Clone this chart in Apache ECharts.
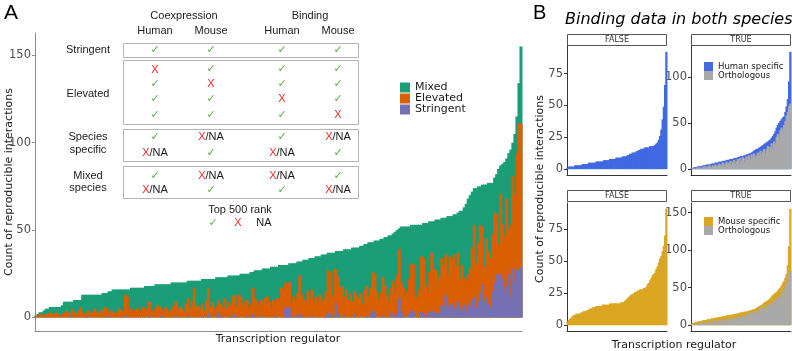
<!DOCTYPE html>
<html>
<head>
<meta charset="utf-8">
<script src="https://cdn.jsdelivr.net/npm/echarts@6/dist/echarts.min.js"></script>
<style>
  html, body { margin: 0; padding: 0; background: #fff; }
  #chart { width: 792px; height: 351px; }
</style>
</head>
<body>
<div id="chart"></div>
<script>
// Panel A: reproducible interactions per regulator (sorted by total)
// tops of the visible layers: total (Mixed on top), Elevated top, Stringent top
var totalA = [
  1,2,3,3,4,5,5,6,6,6,
  6,6,6,7,9,9,9,9,9,10,
  10,10,10,13,13,13,13,13,13,13,
  13,13,13,14,14,14,15,15,16,16,
  16,16,16,16,16,16,16,17,17,17,
  17,17,17,17,18,18,18,18,18,19,
  19,19,19,19,19,19,19,20,20,20,
  20,20,20,20,20,21,21,21,21,21,
  21,21,22,22,22,22,22,22,22,23,
  23,23,23,23,23,24,24,24,24,24,
  24,25,25,25,25,25,26,26,27,27,
  27,27,28,28,28,28,29,29,29,29,
  30,30,30,30,30,31,31,31,31,32,
  32,32,33,33,33,34,34,34,35,35,
  35,36,36,36,37,37,37,37,38,38,
  38,38,39,39,39,39,40,40,40,40,
  41,41,42,42,43,43,43,44,44,44,
  45,45,46,46,47,47,48,49,50,51,
  52,52,52,52,52,53,53,53,53,53,
  53,54,54,54,55,55,55,56,56,56,
  57,57,57,58,58,58,59,59,60,61,
  61,63,65,68,70,72,74,74,75,75,
  76,76,76,77,77,77,80,82,85,87,
  88,89,91,94,96,100,105,115,134,155
];
var elevatedA = [
  1,1,2,1,2,1,2,3,2,2,
  3,2,1,2,3,4,3,2,5,3,
  2,4,6,3,2,3,4,2,3,5,
  3,2,4,3,6,5,3,4,3,2,
  3,5,4,3,13,12,4,5,3,4,
  5,3,4,6,3,5,9,4,3,5,
  7,6,5,3,6,4,3,5,7,9,
  4,6,5,3,8,11,5,9,17,6,
  7,5,8,4,10,17,6,9,5,7,
  10,8,6,11,5,9,7,12,13,6,
  13,12,7,9,10,6,8,17,11,9,
  7,10,8,11,12,9,6,10,8,11,
  9,17,14,20,19,20,8,12,10,14,
  24,13,10,9,15,11,16,9,12,10,
  13,9,11,15,27,26,12,28,27,23,
  17,18,12,16,10,14,9,15,13,11,
  14,8,16,18,12,17,26,25,15,10,
  14,23,18,13,9,17,21,14,24,39,
  20,17,12,15,22,31,30,12,10,16,
  35,34,18,14,26,37,28,27,20,24,
  34,30,36,24,35,33,36,29,37,22,
  30,23,21,25,28,40,53,31,43,53,
  52,29,45,38,34,48,60,59,42,71,
  53,46,68,50,53,81,70,94,111,111
];
var stringentA = [
  0,0,0,0,0,0,0,0,0,0,
  0,0,0,0,0,0,0,1,0,0,
  0,0,0,0,0,1,0,0,0,0,
  0,0,0,0,0,0,1,0,0,0,
  0,0,0,0,1,0,0,0,0,0,
  0,0,0,0,0,0,1,0,0,0,
  0,0,1,0,0,0,0,0,0,1,
  0,0,0,0,0,1,0,0,0,0,
  0,0,1,0,0,3,1,0,0,0,
  3,1,0,0,0,0,1,0,2,0,
  0,0,0,0,1,0,0,2,0,0,
  0,1,0,0,0,0,0,0,1,0,
  0,0,0,5,6,5,0,0,1,0,
  2,1,0,0,0,0,1,0,0,0,
  0,0,0,1,3,2,0,1,8,2,
  0,0,1,0,0,0,0,2,0,0,
  0,0,0,1,0,2,4,3,0,0,
  0,1,0,0,0,3,0,1,2,11,
  3,1,0,0,2,4,3,0,0,0,
  3,2,0,1,3,4,3,3,2,2,
  7,6,13,5,7,8,4,6,9,5,
  4,7,3,8,6,10,12,5,9,14,
  19,9,12,8,6,15,20,25,24,25,
  22,16,18,25,12,28,20,27,27,29
];
var ticksA = [0, 50, 100, 150];

// Panel B: binding data in both species (FALSE / TRUE facets)
var humanFalse = [
  1,2,2,2,2,2,3,3,3,3, 3,3,4,4,4,4,4,5,5,5,
  5,5,5,6,6,6,6,6,6,7, 7,7,7,7,8,8,8,8,8,9,
  9,9,9,9,10,10,10,10,11,11, 12,12,13,13,13,14,14,15,15,16,
  16,16,17,17,17,17,18,18,18,18, 19,20,21,23,26,31,39,49,66,92
];
var humanTrue = [
  1,1,2,2,2,3,3,3,3,4, 4,4,5,5,5,5,6,6,6,7,
  7,7,8,8,8,9,9,9,10,10, 10,11,11,11,12,12,12,13,13,14,
  14,14,15,15,16,16,17,17,18,19, 20,21,22,22,23,24,25,26,27,28,
  29,30,31,32,34,36,38,41,45,48, 50,52,54,56,57,62,68,76,95,127
];
var humanOrtho = [
  0,1,1,0,1,2,1,2,1,2, 3,2,3,1,4,3,2,4,3,5,
  4,3,6,5,4,7,3,6,8,5, 7,9,5,8,10,6,9,11,7,12,
  9,13,8,12,14,10,15,11,16,13, 17,12,15,18,14,20,16,19,22,17,
  21,25,18,24,28,22,30,27,35,38, 33,42,45,40,48,52,58,62,68,71
];
var mouseFalse = [
  3,4,5,6,7,8,8,9,9,9, 9,10,10,11,11,11,12,12,13,13,
  14,14,14,15,15,15,15,15,16,16, 16,16,16,16,17,17,17,17,17,17,
  17,17,17,18,18,18,19,20,21,22, 23,24,24,25,26,26,27,27,28,28,
  28,29,29,30,32,33,35,37,39,40, 41,44,46,49,52,54,58,62,70,91
];
var mouseTrue = [
  2,3,3,4,4,5,5,5,6,6, 7,7,7,8,8,8,9,9,9,10,
  10,10,11,11,11,12,12,12,13,13, 13,14,14,14,15,15,15,16,16,17,
  17,17,18,18,18,19,19,20,20,21, 21,22,23,24,25,26,27,28,30,31,
  32,33,34,36,38,40,41,43,44,46, 48,50,53,56,59,63,68,80,105,155
];
var mouseOrtho = [
  1,0,2,1,2,1,3,2,1,3, 2,4,3,1,5,3,4,2,6,4,
  5,3,7,4,6,8,5,3,9,6, 8,5,10,7,4,11,9,6,12,8,
  10,14,7,12,15,9,16,11,18,13, 15,19,12,20,17,22,14,24,19,25,
  21,28,17,26,30,23,33,27,36,31, 38,34,42,45,40,50,55,60,68,73
];
var ticksFalse = [0, 25, 50, 75];
var ticksHumanTrue = [0, 50, 100];
var ticksMouseTrue = [0, 50, 100, 150];

// table in panel A
var tableHeads = ['Coexpression', 'Binding'];
var tableCols = ['Human', 'Mouse', 'Human', 'Mouse'];
var tableGroups = [
  { label: ['Stringent'], rows: [['Y','Y','Y','Y']] },
  { label: ['Elevated'], rows: [['X','Y','Y','Y'], ['Y','X','Y','Y'], ['Y','Y','X','Y'], ['Y','Y','Y','X']] },
  { label: ['Species', 'specific'], rows: [['Y','XNA','Y','XNA'], ['XNA','Y','XNA','Y']] },
  { label: ['Mixed', 'species'], rows: [['Y','XNA','XNA','Y'], ['XNA','Y','Y','XNA']] }
];

var green = '#1b9e77', orange = '#d95f02', purple = '#7570b3';
var blue = '#4169e1', grey = '#a9a9a9', gold = '#daa520';
var okColor = '#5aad45', noColor = '#ee2a2a';
var axFont = 'DejaVu Sans', tabFont = "'Liberation Sans', 'DejaVu Sans'";

var chart = echarts.init(document.getElementById('chart'));

function names(arr) { return arr.map(function (v, i) { return 'TR' + (i + 1); }); }

function xAx(idx, arr, color) {
  return {
    type: 'category', gridIndex: idx, data: names(arr), boundaryGap: true,
    axisLine: { show: true, onZero: false, lineStyle: { color: color, width: 1 } },
    axisTick: { show: false }, axisLabel: { show: false }, splitLine: { show: false }
  };
}
function yAx(idx, min, max, ticks, color) {
  return {
    type: 'value', gridIndex: idx, min: min, max: max,
    splitLine: { show: false },
    axisLine: { show: true, lineStyle: { color: color, width: 1 } },
    axisTick: { show: true, length: 3, customValues: ticks, lineStyle: { color: color } },
    axisLabel: { customValues: ticks, margin: 4, color: '#4d4d4d', fontSize: 11.5, fontFamily: axFont }
  };
}
// bars as custom rects, slightly overlapping neighbours so no seams show
function bars(name, values, idx, color) {
  return {
    type: 'custom', name: name, xAxisIndex: idx, yAxisIndex: idx, silent: true,
    itemStyle: { color: color },
    data: values.map(function (v, i) { return [i, v]; }),
    encode: { x: 0, y: 1 },
    renderItem: function (params, api) {
      var base = api.coord([api.value(0), 0]);
      var top = api.coord([api.value(0), api.value(1)]);
      var w = api.size([1, 0])[0];
      return {
        type: 'rect',
        shape: { x: base[0] - w / 2 - 0.5, y: top[1], width: w + 1, height: base[1] - top[1] },
        style: { fill: color }
      };
    }
  };
}

// graphic: labels, table
var g = [];
function txt(x, y, s, font, fill, align, rot) {
  var el = {
    type: 'text', x: x, y: y, rotation: rot || 0,
    style: { text: s, font: font, fill: fill || '#1a1a1a',
      align: align || 'center', textAlign: align || 'center',
      verticalAlign: 'middle', textVerticalAlign: 'middle' }
  };
  g.push(el);
  return el;
}
txt(4, 13, 'A', '21px ' + tabFont, '#000', 'left');
txt(533, 13, 'B', '20px ' + tabFont, '#000', 'left');
txt(565, 20, 'Binding data in both species', 'italic 16px ' + axFont, '#000', 'left');

txt(9, 182, 'Count of reproducible interactions', '11px ' + axFont, '#1a1a1a', 'center', Math.PI / 2);
txt(278, 339, 'Transcription regulator', '11px ' + axFont);
txt(540, 189, 'Count of reproducible interactions', '11px ' + axFont, '#1a1a1a', 'center', Math.PI / 2);
txt(674, 345, 'Transcription regulator', '11px ' + axFont);

// table
var colX = [155, 211, 282, 338];
var headX = [184, 310];
var boxY = [[43, 57], [60, 124], [129, 161], [166, 198]];
var rowY = [[50], [69.5, 84, 99, 115], [137, 153], [176, 190]];
var labY = [[50], [94], [137, 150], [176, 188]];
tableHeads.forEach(function (h, i) { txt(headX[i], 16, h, '11px ' + tabFont); });
tableCols.forEach(function (h, i) { txt(colX[i], 31, h, '11px ' + tabFont); });
function cell(x, y, c) {
  if (c === 'Y') txt(x, y, '✓', '11px ' + axFont, okColor);
  else if (c === 'X') txt(x, y, 'X', '11px ' + tabFont, noColor);
  else {
    var el = txt(x, y, '{r|X}/NA', '11px ' + tabFont, '#1a1a1a');
    el.style.rich = { r: { fill: noColor, fontSize: 11, fontFamily: 'Liberation Sans' } };
  }
}
tableGroups.forEach(function (grp, gi) {
  g.push({ type: 'rect', shape: { x: 123.5, y: boxY[gi][0] + 0.5, width: 235, height: boxY[gi][1] - boxY[gi][0] },
    style: { fill: 'none', stroke: '#b4b4b4', lineWidth: 1 } });
  grp.label.forEach(function (l, li) { txt(88, labY[gi][li], l, '11px ' + tabFont); });
  grp.rows.forEach(function (r, ri) {
    r.forEach(function (c, ci) { cell(colX[ci], rowY[gi][ri], c); });
  });
});
txt(240, 210, 'Top 500 rank', '11px ' + tabFont);
cell(213, 223, 'Y');
cell(238, 223, 'X');
txt(264, 223, 'NA', '11px ' + tabFont);

// facet strips
var strips = [[567, 34, 'FALSE'], [691, 34, 'TRUE'], [567, 190, 'FALSE'], [691, 190, 'TRUE']];
strips.forEach(function (s) {
  g.push({ type: 'rect', shape: { x: s[0] + 0.5, y: s[1] + 0.5, width: 99, height: 11 },
    style: { fill: '#fff', stroke: '#555', lineWidth: 1 } });
  txt(s[0] + 50, s[1] + 6, s[2], '8px ' + axFont, '#333');
});

var option = {
  animation: false,
  grid: [
    { left: 35, top: 33, width: 487, height: 298 },
    { left: 567, top: 46, width: 100, height: 129 },
    { left: 691, top: 46, width: 100, height: 129 },
    { left: 567, top: 203, width: 100, height: 128 },
    { left: 691, top: 203, width: 100, height: 128 }
  ],
  xAxis: [
    xAx(0, totalA, '#8c8c8c'),
    xAx(1, humanFalse, '#333'),
    xAx(2, humanTrue, '#333'),
    xAx(3, mouseFalse, '#333'),
    xAx(4, mouseTrue, '#333')
  ],
  yAxis: [
    yAx(0, -7.75, 162.75, ticksA, '#8c8c8c'),
    yAx(1, -4.6, 96.6, ticksFalse, '#333'),
    yAx(2, -6.35, 133.35, ticksHumanTrue, '#333'),
    yAx(3, -4.55, 95.55, ticksFalse, '#333'),
    yAx(4, -7.75, 162.75, ticksMouseTrue, '#333')
  ],
  legend: [
    { data: ['Mixed', 'Elevated', 'Stringent'], orient: 'vertical', left: 395, top: 77,
      itemWidth: 10, itemHeight: 10, itemGap: 0, icon: 'rect', selectedMode: false,
      textStyle: { fontSize: 11, lineHeight: 10, fontFamily: axFont, color: '#1a1a1a' } },
    { data: ['Human specific', 'Orthologous'], orient: 'vertical', left: 699, top: 57,
      itemWidth: 9, itemHeight: 9, itemGap: 0, icon: 'rect', selectedMode: false,
      textStyle: { fontSize: 8.5, lineHeight: 9, fontFamily: axFont, color: '#1a1a1a' } },
    { data: ['Mouse specific', 'Orthologous'], orient: 'vertical', left: 699, top: 212,
      itemWidth: 9, itemHeight: 9, itemGap: 0, icon: 'rect', selectedMode: false,
      textStyle: { fontSize: 8.5, lineHeight: 9, fontFamily: axFont, color: '#1a1a1a' } }
  ],
  series: [
    bars('Mixed', totalA, 0, green),
    bars('Elevated', elevatedA, 0, orange),
    bars('Stringent', stringentA, 0, purple),
    bars('Human specific', humanFalse, 1, blue),
    bars('Human specific', humanTrue, 2, blue),
    bars('Orthologous', humanOrtho, 2, grey),
    bars('Mouse specific', mouseFalse, 3, gold),
    bars('Mouse specific', mouseTrue, 4, gold),
    bars('Orthologous', mouseOrtho, 4, grey)
  ],
  graphic: g
};
chart.setOption(option);
</script>
</body>
</html>
